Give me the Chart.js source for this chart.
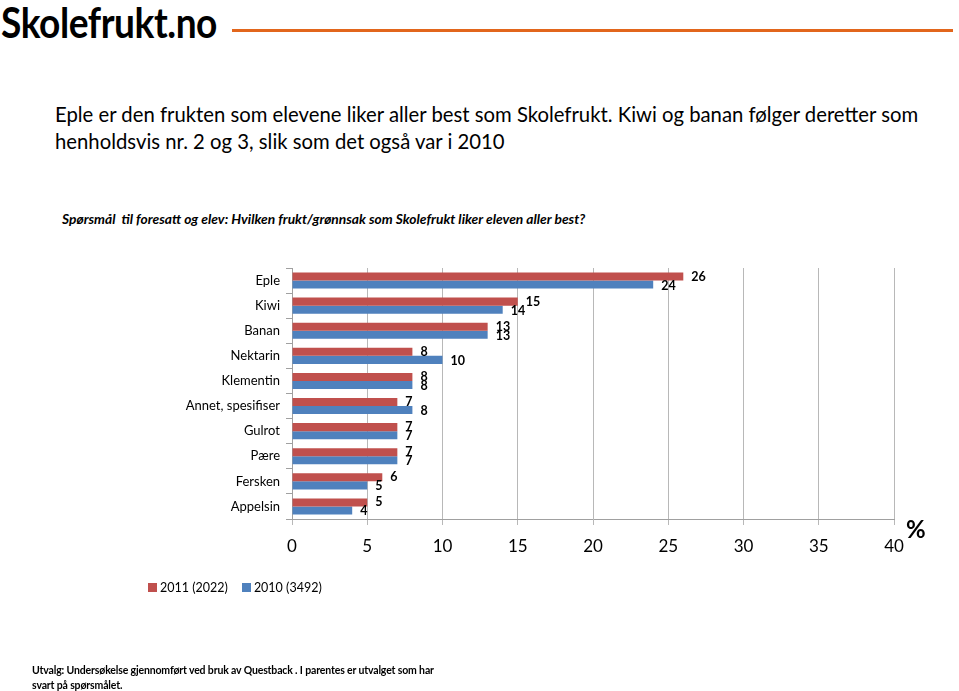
<!DOCTYPE html>
<html>
<head>
<meta charset="utf-8">
<script src="https://cdn.jsdelivr.net/npm/chart.js@4"></script>
<style>
  body { margin: 0; width: 959px; height: 691px; position: relative; background: #fff; font-family: Lato, "Open Sans", sans-serif; overflow: hidden; }
  #chart { position: absolute; left: 0; top: 0; }
  .abs { position: absolute; white-space: nowrap; color: #000; }
  #logo { left: 1px; top: -3px; font-size: 42px; font-weight: bold; letter-spacing: -0.5px; font-family: Lato, sans-serif; transform-origin: 0 0; }
  #rule { left: 232px; top: 29px; width: 721px; height: 3px; background: #e2661c; }
  #title { left: 55px; top: 101px; font-size: 20.3px; line-height: 27px; }
  #question { left: 62px; top: 210px; font-size: 13.8px; font-weight: bold; font-style: italic; }
  #pct { left: 906px; top: 514px; font-size: 24px; font-weight: bold; }
  #legend { left: 148px; top: 580px; font-size: 12.5px; }
  #legend span.box { display: inline-block; width: 9px; height: 9px; margin-right: 3px; }
  #legend span.item { margin-right: 14px; }
  #footer { left: 32px; top: 663px; font-size: 10.5px; font-weight: bold; line-height: 15px; letter-spacing: -0.15px; }
</style>
</head>
<body>
<div class="abs" id="logo">Skolefrukt.no</div>
<div class="abs" id="rule"></div>
<div class="abs" id="title">Eple er den frukten som elevene liker aller best som Skolefrukt. Kiwi og banan følger deretter som<br>henholdsvis nr. 2 og 3, slik som det også var i 2010</div>
<div class="abs" id="question">Spørsmål&nbsp; til foresatt og elev: Hvilken frukt/grønnsak som Skolefrukt liker eleven aller best?</div>
<canvas id="chart" width="959" height="691"></canvas>
<div class="abs" id="pct">%</div>
<div class="abs" id="legend"></div>
<div class="abs" id="footer">Utvalg: Undersøkelse gjennomført ved bruk av Questback . I parentes er utvalget som har<br>svart på spørsmålet.</div>
<script>
// Fruit preference, percent of respondents
const categories = ['Eple', 'Kiwi', 'Banan', 'Nektarin', 'Klementin', 'Annet, spesifiser', 'Gulrot', 'Pære', 'Fersken', 'Appelsin'];
const values2011 = [26, 15, 13, 8, 8, 7, 7, 7, 6, 5];
const values2010 = [24, 14, 13, 10, 8, 8, 7, 7, 5, 4];
const seriesLabels = ['2011 (2022)', '2010 (3492)'];
const seriesColors = ['#c0504d', '#4f81bd'];

// squeeze the logo text to its width in the picture
const logo = document.getElementById('logo');
logo.style.transform = 'scaleX(' + (216 / logo.getBoundingClientRect().width) + ')';

// value labels next to each bar end
const barLabels = {
    id: 'barLabels',
    afterDatasetsDraw(chart) {
        const ctx = chart.ctx;
        ctx.save();
        ctx.font = 'bold 12.5px Lato, "Open Sans", sans-serif';
        ctx.fillStyle = '#000';
        ctx.textBaseline = 'middle';
        ctx.textAlign = 'left';
        chart.data.datasets.forEach((ds, i) => {
            chart.getDatasetMeta(i).data.forEach((el, j) => {
                ctx.fillText(ds.data[j], el.x + 8, el.y + (i === 0 ? 0 : 1));
            });
        });
        ctx.restore();
    }
};

new Chart(document.getElementById('chart'), {
    type: 'bar',
    data: {
        labels: categories,
        datasets: [
            { label: seriesLabels[0], data: values2011, backgroundColor: seriesColors[0] },
            { label: seriesLabels[1], data: values2010, backgroundColor: seriesColors[1] }
        ]
    },
    options: {
        indexAxis: 'y',
        responsive: false,
        animation: false,
        layout: { padding: { top: 268, right: 65, bottom: 126, left: 0 } },
        datasets: { bar: { categoryPercentage: 0.64, barPercentage: 1.0 } },
        plugins: { legend: { display: false }, tooltip: { enabled: false } },
        scales: {
            x: {
                min: 0, max: 40,
                ticks: { stepSize: 5, color: '#000', font: { size: 17, family: 'Lato, "Open Sans", sans-serif' }, padding: 11 },
                grid: { color: '#b8b8b8', tickLength: 6 },
                border: { color: '#a0a0a0' },
                afterFit(scale) { scale.height = 46; }
            },
            y: {
                ticks: { color: '#000', font: { size: 13, family: 'Lato, "Open Sans", sans-serif' }, padding: 6 },
                grid: { drawOnChartArea: false, tickLength: 6, color: '#a0a0a0', offset: true },
                border: { color: '#a0a0a0' },
                afterFit(scale) { scale.width = 292; }
            }
        }
    },
    plugins: [barLabels]
});

// legend
const legend = document.getElementById('legend');
seriesLabels.forEach((lab, i) => {
    const item = document.createElement('span');
    item.className = 'item';
    item.innerHTML = `<span class="box" style="background:${seriesColors[i]}"></span>${lab}`;
    legend.appendChild(item);
});
</script>
</body>
</html>
